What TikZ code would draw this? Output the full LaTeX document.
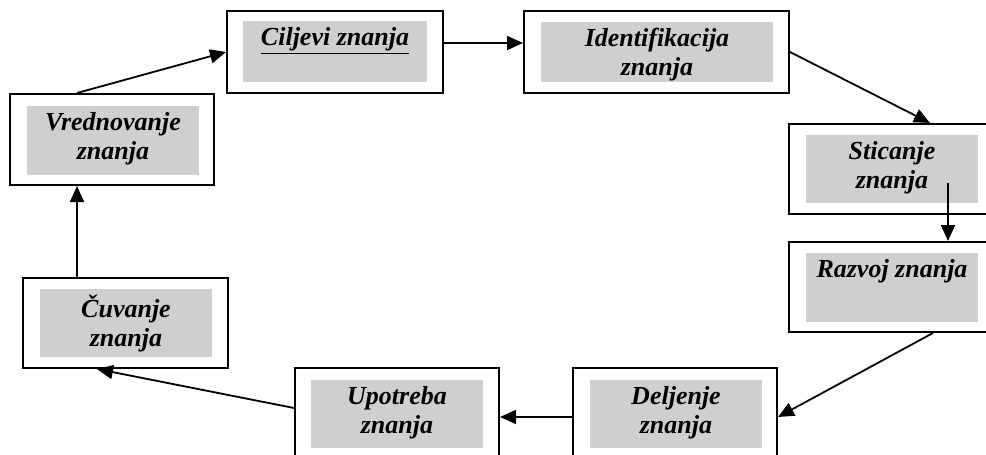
\documentclass[tikz,border=0pt]{standalone}
\usepackage{fontspec}
\setmainfont{Liberation Serif}
\usepackage{tikz}
\usetikzlibrary{arrows.meta, positioning, calc, fit}
\definecolor{boxgrey}{RGB}{208,207,208}
\definecolor{mydark}{RGB}{0,0,0}
\tikzset{
  outerbox/.style={rectangle, draw=mydark, fill=white, line width=1pt, inner sep=0pt},
  greybox/.style={rectangle, fill=boxgrey, inner sep=0pt},
  boxtext/.style={align=center, inner sep=3pt,
    font=\fontsize{13}{14.5}\selectfont\bfseries\itshape},
  arrow/.style={-{Triangle[length=8pt, width=7pt]}, line width=0.9pt, color=mydark}
}

\begin{document}
\begin{tikzpicture}[x=0.5pt, y=-0.5pt]
  \useasboundingbox (0,0) rectangle (986,455);

  % frames
  \node[outerbox, fit={(227,11) (443,93)}] (cilj) {};
  \node[outerbox, fit={(524,11) (789,93)}] (iden) {};
  \node[outerbox, fit={(789,124) (995,214)}] (stic) {};
  \node[outerbox, fit={(789,242) (995,332)}] (razv) {};
  \node[outerbox, fit={(573,368) (777,466)}] (delj) {};
  \node[outerbox, fit={(295,368) (499,466)}] (upot) {};
  \node[outerbox, fit={(23,278) (228,368)}] (cuv) {};
  \node[outerbox, fit={(10,94) (214,185)}] (vred) {};

  % grey panels
  \node[greybox, fit={(243,21) (427,82)}] (ciljg) {};
  \node[greybox, fit={(541,22) (773,82)}] (ideng) {};
  \node[greybox, fit={(806,135) (978,203)}] (sticg) {};
  \node[greybox, fit={(806,253) (978,322)}] (razvg) {};
  \node[greybox, fit={(590,380) (762,448)}] (deljg) {};
  \node[greybox, fit={(311,380) (483,448)}] (upotg) {};
  \node[greybox, fit={(40,289) (212,357)}] (cuvg) {};
  \node[greybox, fit={(27,106) (199,175)}] (vredg) {};

  % labels
  \node[boxtext, below=0pt of ciljg.north] (ciljt) {\underline{Ciljevi znanja}};
  \node[boxtext, below=0pt of ideng.north] (dent) {Identifikacija\\znanja};
  \node[boxtext, below=0pt of sticg.north] (stict) {Sticanje\\znanja};
  \node[boxtext, below=0pt of razvg.north] (razvt) {Razvoj znanja};
  \node[boxtext, below=0pt of deljg.north] (deljt) {Deljenje\\znanja};
  \node[boxtext, below=0pt of upotg.north] (upott) {Upotreba\\znanja};
  \node[boxtext, below=0pt of cuvg.north] (cuvt) {Čuvanje\\znanja};
  \node[boxtext, below=0pt of vredg.north] (vredt) {Vrednovanje\\znanja};

  % cycle
  \coordinate (sticdrop) at ([xshift=28pt, yshift=-7pt]stic.center);
  \coordinate (cuvtop) at ([xshift=-24.25pt]cuv.north);

  \draw[arrow] ([xshift=-17.5pt]vred.north) -- (cilj.west);
  \draw[arrow] ([yshift=4.5pt]cilj.east) -- ([yshift=4.5pt]iden.west);
  \draw[arrow] (iden.east) -- ([xshift=19pt]stic.north);
  \draw[arrow] (sticdrop) -- (sticdrop |- razv.north);
  \draw[arrow] ([xshift=20.5pt]razv.south) -- (delj.east);
  \draw[arrow] (delj.west) -- (upot.east);
  \draw[arrow] ([yshift=4.5pt]upot.west) -- ([xshift=-14.25pt]cuv.south);
  \draw[arrow] (cuvtop) -- (cuvtop |- vred.south);
\end{tikzpicture}
\end{document}
